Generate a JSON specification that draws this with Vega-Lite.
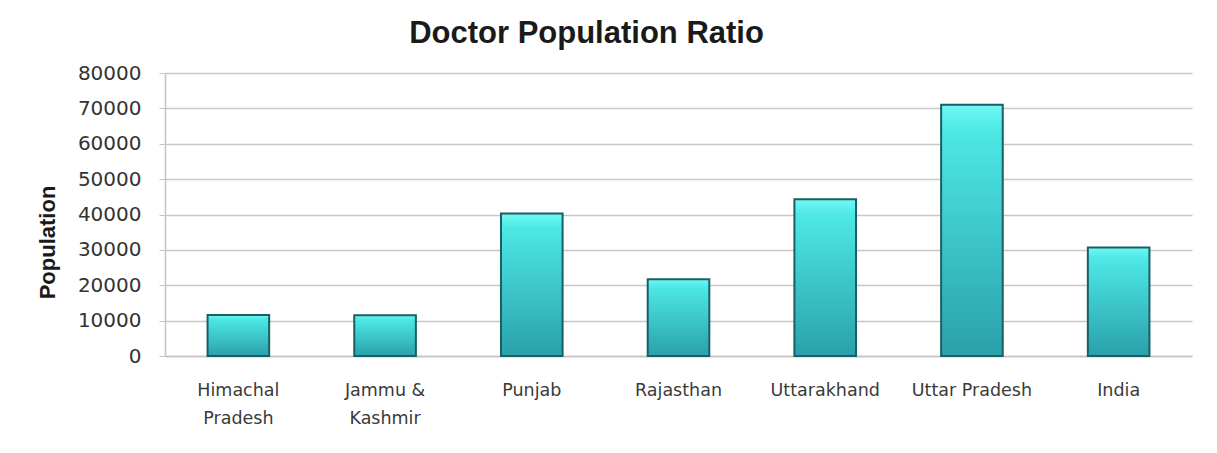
{
  "$schema": "https://vega.github.io/schema/vega-lite/v6.json",
  "autosize": "none",
  "width": 1027,
  "height": 283,
  "padding": {"left": 165, "top": 73, "right": 25, "bottom": 97},
  "background": "white",
  "title": {
    "text": "Doctor Population Ratio",
    "fontSize": 31,
    "font": "Liberation Sans",
    "fontWeight": "bold",
    "color": "#1a1a1a",
    "anchor": "middle",
    "dx": -92,
    "offset": 13
  },
  "data": {
    "values": [
      {"state": "Himachal Pradesh", "population": 11600},
      {"state": "Jammu & Kashmir", "population": 11500},
      {"state": "Punjab", "population": 40300},
      {"state": "Rajasthan", "population": 21700},
      {"state": "Uttarakhand", "population": 44300},
      {"state": "Uttar Pradesh", "population": 71000},
      {"state": "India", "population": 30700}
    ]
  },
  "mark": {
    "type": "bar",
    "stroke": "#1a5f66",
    "strokeWidth": 2,
    "fill": {
      "gradient": "linear",
      "x1": 0, "y1": 0, "x2": 0, "y2": 1,
      "stops": [
        {"offset": 0, "color": "#72f8f3"},
        {"offset": 0.1, "color": "#4de8e6"},
        {"offset": 1, "color": "#2aa0aa"}
      ]
    }
  },
  "encoding": {
    "x": {
      "field": "state",
      "type": "nominal",
      "sort": null,
      "scale": {"paddingInner": 0.58, "paddingOuter": 0.29},
      "axis": {
        "title": null,
        "labelAngle": 0,
        "labelFont": "DejaVu Sans",
        "labelFontSize": 17.5,
        "labelColor": "#3a3a3a",
        "labelPadding": 25,
        "labelLineHeight": 28,
        "ticks": false,
        "domainColor": "#c4c4c4",
        "domainWidth": 1.5,
        "labelExpr": "datum.label == 'Himachal Pradesh' ? ['Himachal', 'Pradesh'] : datum.label == 'Jammu & Kashmir' ? ['Jammu &', 'Kashmir'] : datum.label"
      }
    },
    "y": {
      "field": "population",
      "type": "quantitative",
      "scale": {"domain": [0, 80000]},
      "axis": {
        "title": "Population",
        "titleFont": "Liberation Sans",
        "titleFontSize": 22,
        "titleFontWeight": "bold",
        "titleColor": "#1a1a1a",
        "titleX": -118,
        "titleY": 169,
        "titleBaseline": "middle",
        "values": [0, 10000, 20000, 30000, 40000, 50000, 60000, 70000, 80000],
        "format": "d",
        "labelFont": "DejaVu Sans",
        "labelFontSize": 20,
        "labelColor": "#333333",
        "labelPadding": 18,
        "tickSize": 6,
        "tickColor": "#c4c4c4",
        "domainColor": "#c4c4c4",
        "domainWidth": 1.5,
        "gridColor": "#c8c8c8",
        "gridWidth": 1.5
      }
    }
  },
  "config": {"view": {"stroke": null}}
}
